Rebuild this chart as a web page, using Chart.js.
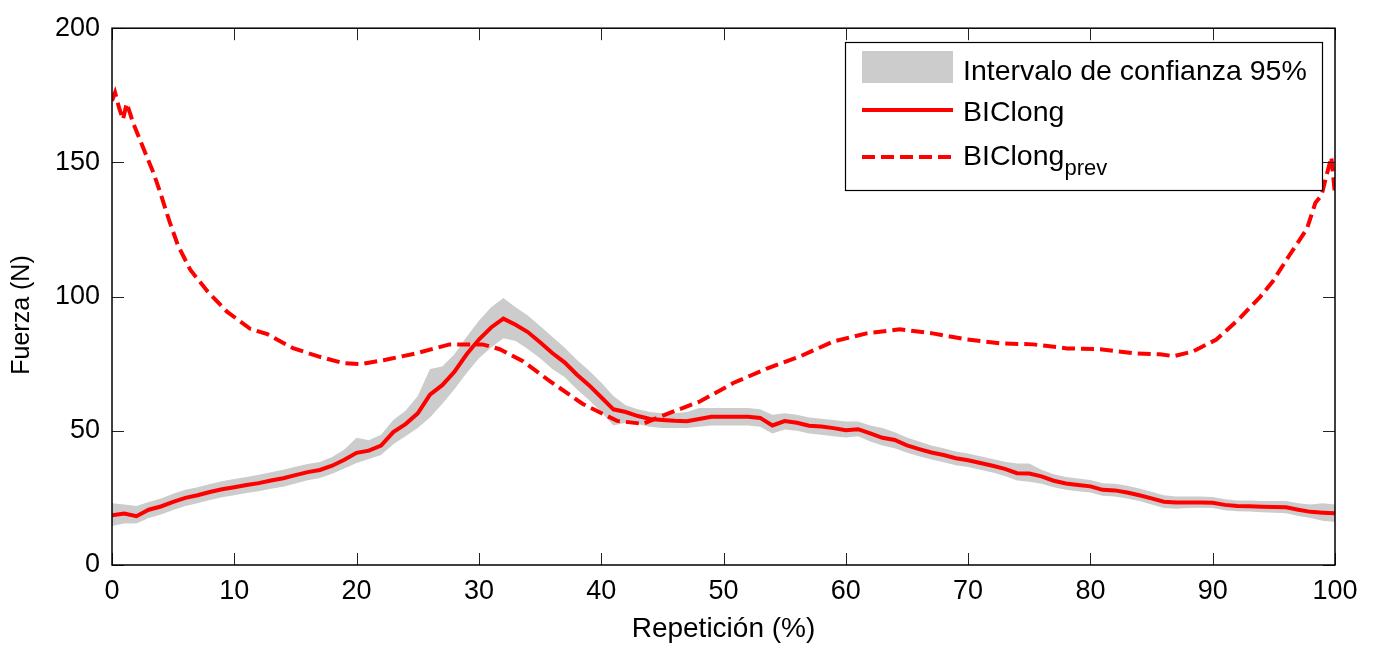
<!DOCTYPE html>
<html>
<head>
<meta charset="utf-8">
<script src="https://cdn.jsdelivr.net/npm/chart.js@4.4.1/dist/chart.umd.min.js"></script>
<style>
  html, body { margin: 0; padding: 0; background: #fff; }
  #wrap { width: 1376px; height: 646px; }
</style>
</head>
<body>
<div id="wrap"><canvas id="fuerza"></canvas></div>
<script>
// % de la repeticion, 1 punto por %
const rep = [0,1,2,3,4,5,6,7,8,9,10,11,12,13,14,15,16,17,18,19,20,21,22,23,24,25,26,27,28,29,30,31,32,33,34,35,36,37,38,39,40,41,42,43,44,45,46,47,48,49,50,51,52,53,54,55,56,57,58,59,60,61,62,63,64,65,66,67,68,69,70,71,72,73,74,75,76,77,78,79,80,81,82,83,84,85,86,87,88,89,90,91,92,93,94,95,96,97,98,99,100];

const biclong = [18.5,19.2,18.2,20.6,21.8,23.5,25,26,27.2,28.2,29,29.8,30.5,31.5,32.3,33.5,34.6,35.4,37,39.2,41.8,42.6,44.5,49.5,52.5,56.5,63.5,67,72,78.5,84,88.5,91.8,89.5,86.8,83,79,75.5,71,67,62.5,58,57,55.5,54.4,54,53.7,53.6,54.4,55.2,55.2,55.2,55.2,54.8,52,53.6,53,51.9,51.6,51,50.2,50.6,49,47.4,46.6,44.6,43.2,41.9,41,39.8,39,38,37,35.8,34.2,34.1,33,31.4,30.4,29.8,29.3,28,27.8,27,26,24.8,23.6,23.3,23.3,23.3,23.2,22.4,22,21.9,21.7,21.6,21.5,20.6,19.8,19.5,19.3];

const ciUpper = [23,22.5,22,23.5,24.8,26.5,28,29,30.2,31.2,32,32.8,33.6,34.6,35.5,36.6,37.6,38.4,40.2,43,47.4,46.5,48.5,54,57.5,63,73,74,78.5,85,91,96,99.5,96,93,89,85,81,76.5,72.5,68,63,59.5,58,57,56.5,56.5,57,58.5,58.5,58.5,58.5,58.5,58,56,56.5,56,55,54.5,54,53.5,53.5,52,51,49.5,47.5,46,44.5,43.5,42.3,41.5,40.5,39.5,38.5,37.8,37.8,35.5,33.8,32.8,32.2,31.7,30.5,30.3,29.5,28.5,27.3,26,25.5,25.5,25.5,25.3,24.5,24,24,23.8,23.8,23.8,23,22.5,23,22.5];

const ciLower = [14.5,15.5,15.5,17.5,18.8,20.5,22,23,24.2,25.2,26,26.8,27.5,28.4,29.2,30.4,31.6,32.4,34,36,38,39.5,41,45,48,51,55,60,65.5,71.5,77,81,84.5,83.5,80.5,77,73,70,65.5,61.5,57,52,53,52.5,51.5,51,51,51,51.5,52,52,52,52,51.5,49,50.5,50,49,48.5,48,47.5,48,46,44.5,43.5,41.8,40.5,39.3,38.3,37.2,36.5,35.5,34.5,33.2,31.5,31,30.3,29,28,27.5,27,25.8,25.5,24.8,23.8,22.5,21.2,21,21.2,21.3,21.2,20.4,20,19.9,19.7,19.5,19.3,18.3,17.5,16.5,16];

// curva previa, leida a pasos irregulares
const repPrev = [0,0.25,0.6,0.9,1.2,1.5,1.7,2.5,3.4,4,4.7,5.4,6.4,7.8,9.4,11.3,12.7,14.8,16.8,18.9,20.3,22.2,24.9,27.6,30.3,31.7,33.6,35.8,38.5,41.3,43.4,45.4,48.1,50.8,53.6,56.3,59,61.7,64.4,67.1,69.9,72.6,75.3,78.1,80.8,83.5,85.7,86.8,88.4,90.3,92.2,93.9,94.9,96.3,97.7,98.4,98.9,99.3,99.7,100];
const biclongPrev = [173,176,170,166,172,168,165,156,146,138,128,119,110,102,94.4,88,86,80.8,77.8,75.2,74.8,76.3,78.9,82.2,82.2,80.4,75.9,68.5,60,53.7,52.6,56.3,61,67.8,73.3,77.8,83.3,86.3,87.8,86.3,84,82.6,82.2,80.7,80.4,78.9,78.5,77.8,79.6,84,91.9,100,105.6,115.6,125.2,135,137.8,145,152,138];

const xTicks = [0,10,20,30,40,50,60,70,80,90,100];
const yTicks = [0,50,100,150,200];

const FONT = '"Liberation Sans", Arial, sans-serif';
const ROJO = '#ff0000';
const GRIS = '#cccccc';

const pts = (xs, ys) => xs.map((x, i) => ({ x: x, y: ys[i] }));

// marco y marcas hacia dentro, estilo matlab
const marco = {
  id: 'marco',
  afterDatasetsDraw(chart) {
    const { ctx, chartArea: a, scales: { x, y } } = chart;
    ctx.save();
    ctx.strokeStyle = '#222';
    ctx.lineWidth = 1;
    xTicks.forEach(t => {
      const px = Math.round(x.getPixelForValue(t)) + 0.5;
      ctx.beginPath();
      ctx.moveTo(px, a.bottom); ctx.lineTo(px, a.bottom - 12);
      ctx.moveTo(px, a.top); ctx.lineTo(px, a.top + 12);
      ctx.stroke();
    });
    yTicks.forEach(t => {
      const py = Math.round(y.getPixelForValue(t)) + 0.5;
      ctx.beginPath();
      ctx.moveTo(a.left, py); ctx.lineTo(a.left + 12, py);
      ctx.moveTo(a.right, py); ctx.lineTo(a.right - 12, py);
      ctx.stroke();
    });
    ctx.lineWidth = 1.5;
    ctx.strokeStyle = '#000';
    ctx.strokeRect(a.left, a.top, a.right - a.left, a.bottom - a.top);
    ctx.restore();
  }
};

// leyenda con subindice
const leyenda = {
  id: 'leyenda',
  afterDraw(chart) {
    const ctx = chart.ctx;
    const bx = 845, by = 42, bw = 477, bh = 148;
    ctx.save();
    ctx.fillStyle = '#fff';
    ctx.fillRect(bx, by, bw, bh);
    ctx.strokeStyle = '#000';
    ctx.lineWidth = 1.2;
    ctx.strokeRect(bx + 0.5, by + 0.5, bw, bh);

    ctx.fillStyle = GRIS;
    ctx.fillRect(862, 51, 91, 32);

    ctx.strokeStyle = ROJO;
    ctx.lineWidth = 4;
    ctx.beginPath(); ctx.moveTo(862, 110); ctx.lineTo(953, 110); ctx.stroke();
    ctx.setLineDash([13, 6]);
    ctx.beginPath(); ctx.moveTo(862, 157); ctx.lineTo(953, 157); ctx.stroke();
    ctx.setLineDash([]);

    ctx.fillStyle = '#000';
    ctx.textBaseline = 'alphabetic';
    ctx.textAlign = 'left';
    ctx.font = '28.5px ' + FONT;
    ctx.fillText('Intervalo de confianza 95%', 963, 80);
    ctx.fillText('BIClong', 963, 121);
    ctx.fillText('BIClong', 963, 165);
    const w = ctx.measureText('BIClong').width;
    ctx.font = '22px ' + FONT;
    ctx.fillText('prev', 963 + w, 175);
    ctx.restore();
  }
};

// titulo del eje y
const tituloY = {
  id: 'tituloY',
  afterDraw(chart) {
    const ctx = chart.ctx;
    ctx.save();
    ctx.translate(22, 315);
    ctx.rotate(-Math.PI / 2);
    ctx.fillStyle = '#000';
    ctx.font = '25px ' + FONT;
    ctx.textAlign = 'center';
    ctx.textBaseline = 'middle';
    ctx.fillText('Fuerza (N)', 0, 0);
    ctx.restore();
  }
};

new Chart(document.getElementById('fuerza'), {
  type: 'line',
  data: {
    datasets: [
      {
        label: 'BIClong',
        data: pts(rep, biclong),
        borderColor: ROJO,
        borderWidth: 4,
        pointRadius: 0,
        tension: 0,
        fill: false,
        order: 0
      },
      {
        label: 'BIClong prev',
        data: pts(repPrev, biclongPrev),
        borderColor: ROJO,
        borderWidth: 4,
        borderDash: [13, 6],
        pointRadius: 0,
        tension: 0,
        fill: false,
        order: 1
      },
      {
        label: 'Intervalo de confianza 95%',
        data: pts(rep, ciUpper),
        borderWidth: 0,
        borderColor: GRIS,
        backgroundColor: GRIS,
        pointRadius: 0,
        tension: 0,
        fill: '+1',
        order: 2
      },
      {
        label: 'ci inferior',
        data: pts(rep, ciLower),
        borderWidth: 0,
        borderColor: GRIS,
        pointRadius: 0,
        tension: 0,
        fill: false,
        order: 3
      }
    ]
  },
  options: {
    responsive: true,
    maintainAspectRatio: false,
    animation: false,
    devicePixelRatio: 1,
    layout: { padding: { top: 26, right: 41, left: 0, bottom: 0 } },
    plugins: {
      legend: { display: false },
      tooltip: { enabled: false }
    },
    scales: {
      x: {
        type: 'linear',
        min: 0,
        max: 100,
        afterFit(s) { s.height = 81; },
        afterBuildTicks(s) { s.ticks = xTicks.map(v => ({ value: v })); },
        grid: { display: false, drawTicks: false },
        border: { display: false },
        ticks: { color: '#000', padding: 10, maxRotation: 0, font: { family: FONT, size: 27 } },
        title: { display: true, text: 'Repetición (%)', color: '#000', padding: { top: 2, bottom: 0 }, font: { family: FONT, size: 28 } }
      },
      y: {
        min: 0,
        max: 200,
        afterFit(s) { s.width = 112; },
        afterBuildTicks(s) { s.ticks = yTicks.map(v => ({ value: v })); },
        grid: { display: false, drawTicks: false },
        border: { display: false },
        ticks: { color: '#000', padding: 12, font: { family: FONT, size: 27 } }
      }
    }
  },
  plugins: [marco, leyenda, tituloY]
});
</script>
</body>
</html>
